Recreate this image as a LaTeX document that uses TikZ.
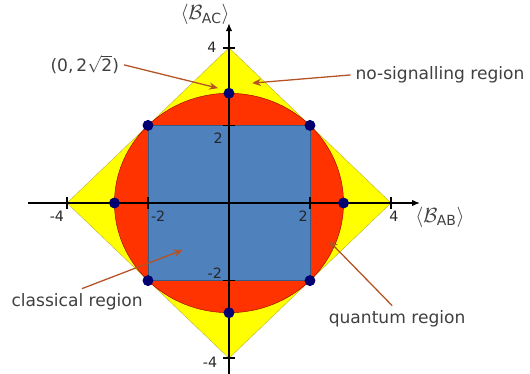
\documentclass[tikz,border=0pt]{standalone}
\usepackage{amsmath}
\usepackage{fontspec}
\setmainfont{DejaVu Sans}
\usetikzlibrary{arrows.meta}
\definecolor{nsyellow}{RGB}{255,255,0}
\definecolor{qred}{RGB}{255,51,0}
\definecolor{clblue}{RGB}{79,129,189}
\definecolor{dotblue}{RGB}{0,0,112}
\definecolor{arrbrown}{RGB}{181,82,35}
\definecolor{txtgray}{RGB}{64,64,64}

\begin{document}
\begin{tikzpicture}[x=1cm,y=0.958cm,
  every node/.style={font=\fontsize{12}{14}\selectfont,text=txtgray},
  dot/.style={circle,fill=dotblue,inner sep=0pt,minimum size=2.7mm},
  ticklbl/.style={font=\fontsize{10}{12}\selectfont,text=black!85,inner sep=1pt},
  axlbl/.style={font=\fontsize{14}{16}\selectfont},
  axis/.style={line width=1.3pt,-{Latex[length=2mm,width=1.6mm]}},
  arrow/.style={-{Stealth[length=2.2mm,width=1.8mm]},draw=arrbrown,line width=0.9pt}
]
  \useasboundingbox (-5.654,-4.407) rectangle (7.432,5.232);
  % regions
  \fill[nsyellow,draw=yellow!70!black,line width=0.3pt] (4,0) -- (0,4) -- (-4,0) -- (0,-4) -- cycle;
  \fill[qred,draw=red!60!black,line width=0.3pt] (0,0) circle[radius=2.828];
  \fill[clblue,draw=clblue!70!black,line width=0.3pt] (-2,-2) rectangle (2,2);
  % axes
  \draw[axis] (-4.96,0) -- (4.72,0);
  \draw[line width=1.3pt] (0,-4.45) -- (0,0);
  \draw[axis] (0,0) -- (0,4.64);
  \foreach \t in {-4,-2,2,4} {
    \draw[line width=1pt] (\t,-0.15) -- (\t,0.15);
    \draw[line width=1pt] (-0.15,\t) -- (0.15,\t);
  }
  \node[axlbl] (labAB) at (5.21,-0.36) {$\langle\mathcal{B}_{\text{AB}}\rangle$};
  \node[axlbl] (labAC) at (-0.59,4.85) {$\langle\mathcal{B}_{\text{AC}}\rangle$};
  % tick labels
  \node[ticklbl] (xm4) at (-4.25,-0.34) {-4};
  \node[ticklbl] (xm2) at (-1.75,-0.34) {-2};
  \node[ticklbl] (xp2) at (1.83,-0.34) {2};
  \node[ticklbl] (xp4) at (4.07,-0.34) {4};
  \node[ticklbl] (yp4) at (-0.42,4.0) {4};
  \node[ticklbl] (yp2) at (-0.27,1.68) {2};
  \node[ticklbl] (ym2) at (-0.35,-1.8) {-2};
  \node[ticklbl] (ym4) at (-0.47,-4.1) {-4};
  % extreme points
  \node[dot] (top) at (0,2.828) {};
  \node[dot] (bot) at (0,-2.828) {};
  \node[dot] (lft) at (-2.828,0) {};
  \node[dot] (rgt) at (2.828,0) {};
  \node[dot] (ne) at (2,2) {};
  \node[dot] (nw) at (-2,2) {};
  \node[dot] (se) at (2,-2) {};
  \node[dot] (sw) at (-2,-2) {};
  % annotations
  \node (ptlbl) at (-3.56,3.56) {(0,\,2$\sqrt{\text{2}}$)};
  \node (nslbl) at (5.21,3.30) {no-signalling region};
  \node (cllbl) at (-3.75,-2.55) {classical region};
  \node (qlbl) at (4.15,-2.99) {quantum region};
  \coordinate (pttip) at (-0.27,2.96);
  \coordinate (nstip) at (0.57,3.09);
  \coordinate (cltip) at (-1.14,-1.21);
  \coordinate (qtip) at (2.47,-0.98);
  \draw[arrow] (ptlbl.east) -- (pttip);
  \draw[arrow] (nslbl.west) -- (nstip);
  \draw[arrow] (cllbl.70) -- (cltip);
  \draw[arrow] (qlbl.110) -- (qtip);
\end{tikzpicture}
\end{document}
